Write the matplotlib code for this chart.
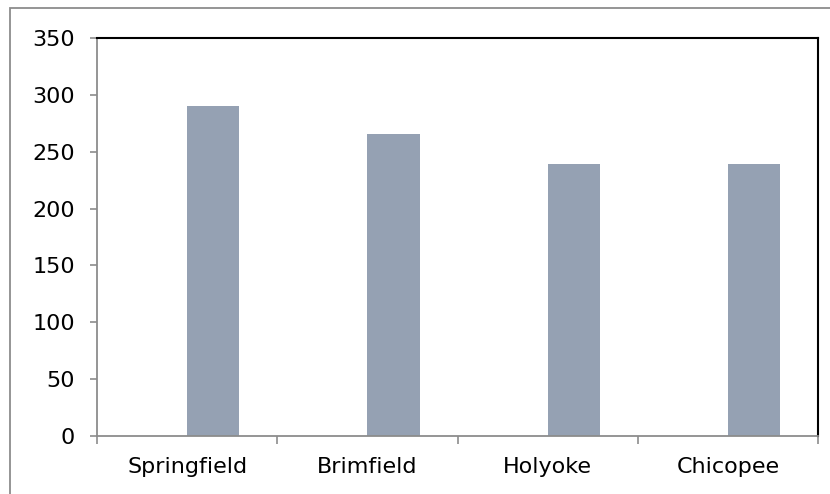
import matplotlib
matplotlib.use("Agg")
import matplotlib.pyplot as plt
from matplotlib.patches import Rectangle

# data
cities = ["Springfield", "Brimfield", "Holyoke", "Chicopee"]
values = [290, 266, 239, 239]
y_ticks = [0, 50, 100, 150, 200, 250, 300, 350]

plt.rcParams['font.family'] = ['DejaVu Sans']

fig = plt.figure(figsize=(8.3, 4.94), dpi=100)
W, H = 830, 494
ax = fig.add_axes([97 / W, 1 - 436 / H, (818 - 97) / W, (436 - 38) / H])

# outer frame of the chart area (left and top edges visible)
fig.patches.append(Rectangle((10 / W, -0.1), 1.2, 1 - 8 / H + 0.1,
                             transform=fig.transFigure, fill=False,
                             edgecolor="#8c8c8c", linewidth=1.3))

pos = list(range(len(cities)))
ax.bar(pos, values, width=0.29, align="edge", color="#95a1b3")

ax.set_xlim(-0.5, len(cities) - 0.5)
ax.set_ylim(0, 350)
ax.set_yticks(y_ticks)
ax.set_xticks([p - 0.5 for p in pos] + [len(cities) - 0.5])
ax.set_xticklabels([])
ax.set_xticks(pos, minor=True)
ax.set_xticklabels(cities, minor=True, fontsize=16)
ax.tick_params(axis="x", which="minor", length=0, pad=15)
ax.tick_params(axis="x", which="major", length=6, color="#8c8c8c", width=1.2)
ax.tick_params(axis="y", length=5, color="#8c8c8c", width=1.2, labelsize=16, pad=11)

for s in ["left", "bottom"]:
    ax.spines[s].set_color("#8c8c8c")
    ax.spines[s].set_linewidth(1.3)
for s in ["top", "right"]:
    ax.spines[s].set_color("black")
    ax.spines[s].set_linewidth(1.5)

fig.savefig("out.png", dpi=100)
